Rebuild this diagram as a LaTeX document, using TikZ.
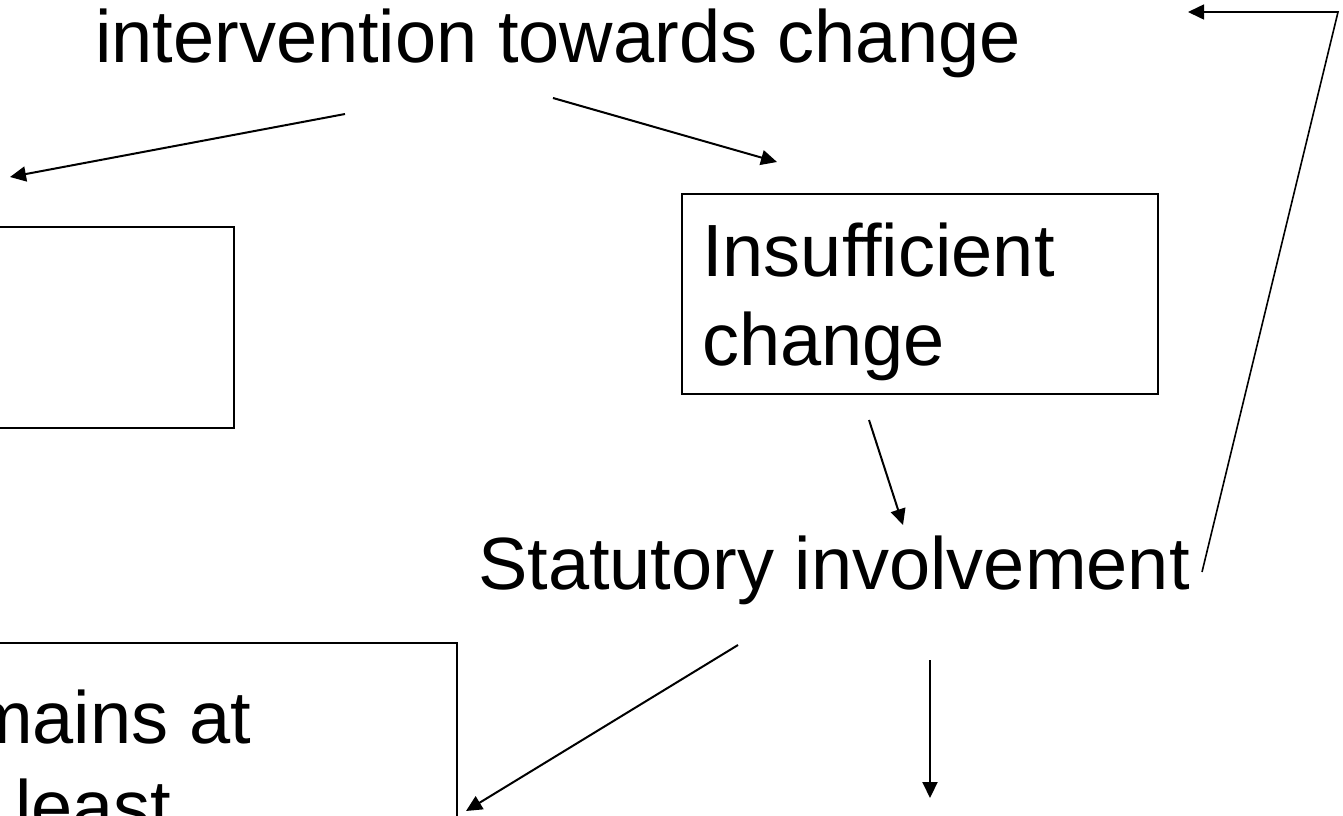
\documentclass[tikz,border=0pt]{standalone}
\usepackage{fontspec}
\setmainfont{Liberation Sans}
\usetikzlibrary{arrows.meta}
\begin{document}
\begin{tikzpicture}[x=1pt,y=-1pt,
  txt/.style={inner sep=0pt, anchor=base west, font=\fontsize{74}{89}\selectfont},
  boxshape/.style={draw, line width=2pt, inner sep=0pt, anchor=north west},
  conn/.style={line width=2pt, -{Triangle[length=16pt,width=15pt]}},
  loopline/.style={line width=1.6pt, -{Triangle[length=16pt,width=15pt]}},
]
\useasboundingbox (0,0) rectangle (1343,815);
\clip (0,0) rectangle (1343,815);

% texts
\node[txt] (title) at (95,62) {intervention towards change};
\node[txt] (stat) at (478,589) {Statutory involvement};

% boxes
\node[boxshape, minimum width=533pt, minimum height=201pt] (leftbox) at (-300,226) {};
\node[boxshape, minimum width=476pt, minimum height=200pt] (insbox) at (681,193) {};
\node[boxshape, minimum width=756pt, minimum height=300pt] (rembox) at (-300,642) {};

\node[txt] (insA) at (702,276) {Insufficient};
\node[txt] (insB) at (702,365) {change};
\node[txt] (remA) at (-29,743) {mains at};
\node[txt] (remB) at (15,832) {least};

% connector end points
\coordinate (a1s) at (345,114);
\coordinate (a1e) at (10,177);
\coordinate (a2s) at (553,98);
\coordinate (a2e) at (777,162);
\coordinate (a3s) at (869,420);
\coordinate (a3e) at (903,525);
\coordinate (a4s) at (738,645);
\coordinate (a4e) at (466,811);
\coordinate (a5s) at (930,660);
\coordinate (a5e) at (930,798);
\coordinate (lps) at (1202,572);
\coordinate (lpc) at (1338,12);
\coordinate (lpe) at (1188,12);

\draw[conn] (a1s) -- (a1e);
\draw[conn] (a2s) -- (a2e);
\draw[conn] (a3s) -- (a3e);
\draw[conn] (a4s) -- (a4e);
\draw[conn] (a5s) -- (a5e);
\draw[loopline] (lps) -- (lpc) -- (lpe);
\end{tikzpicture}
\end{document}
